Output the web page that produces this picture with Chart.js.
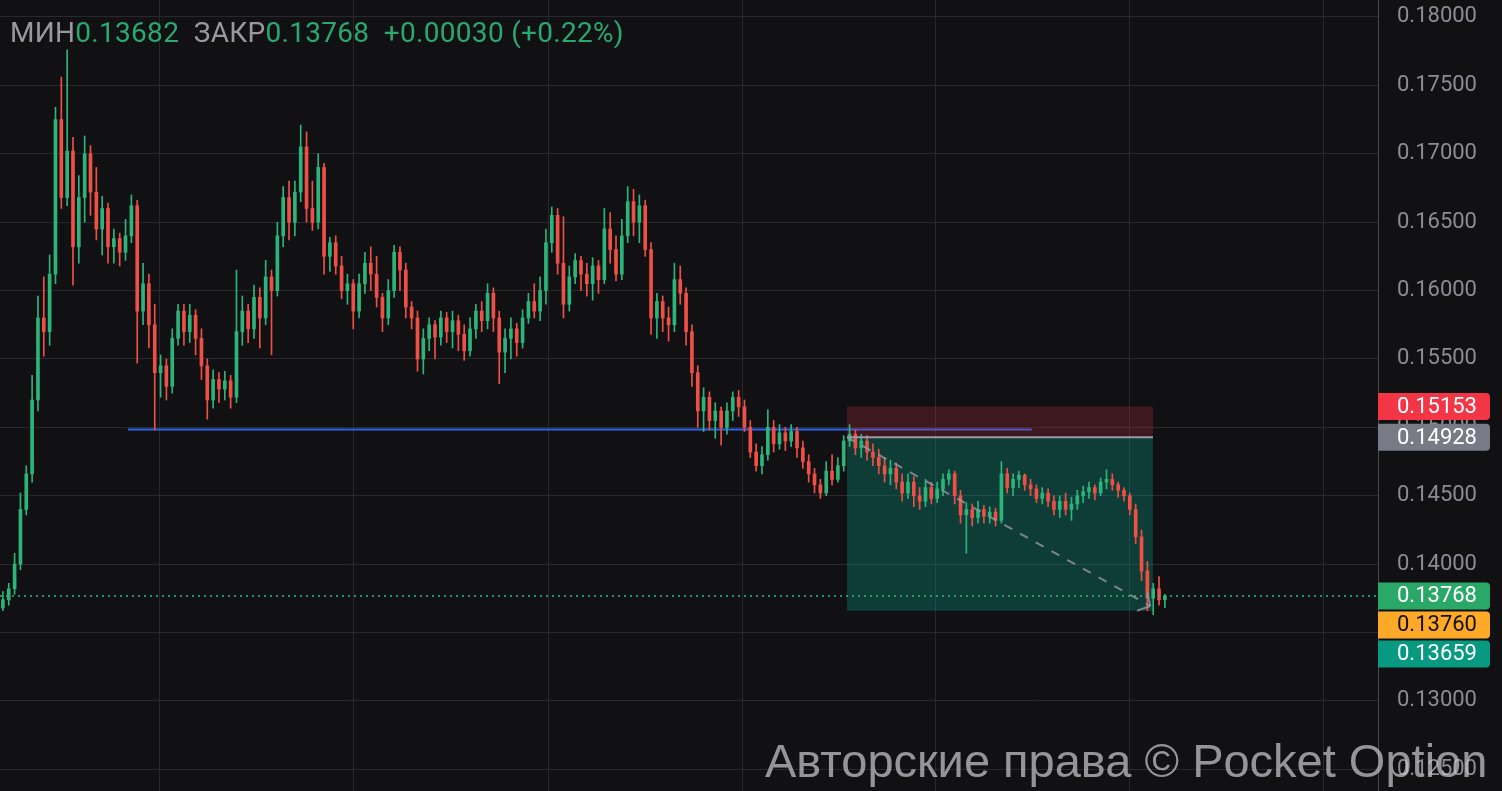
<!DOCTYPE html>
<html>
<head>
<meta charset="utf-8">
<script src="https://cdn.jsdelivr.net/npm/chart.js@4.4.1/dist/chart.umd.min.js"></script>
<style>
  html, body { margin: 0; background: #111114; overflow: hidden; }
  #wrap { position: relative; width: 1502px; height: 791px; }
  #legend { position: absolute; left: 10px; top: 18px; font: 28px Roboto, sans-serif; letter-spacing: 0.3px; line-height: 30px; white-space: pre; color: #2aa872; }
  #legend .lbl { color: #98989e; }
  #mark { position: absolute; left: 765px; top: 737px; font: 47px "Liberation Sans", Arial, sans-serif; line-height: 47px; color: rgba(200, 200, 205, 0.72); white-space: nowrap; }
</style>
</head>
<body>
<div id="wrap">
  <canvas id="chart" width="1502" height="791"></canvas>
  <div id="legend"><span class="lbl">МИН</span>0.13682  <span class="lbl">ЗАКР</span>0.13768  +0.00030 (+0.22%)</div>
  <div id="mark">Авторские права © Pocket Option</div>
</div>
<script>
// candles (OHLC), one per time slot
const opens = [
  .1368,.1374,.1382,.1400,.1440,.1466,.1520,.1580,.1570,.1612,
  .1725,.1668,.1702,.1632,.1668,.1700,.1672,.1645,.1660,.1632,
  .1638,.1628,.1640,.1662,.1585,.1605,.1575,.1540,.1545,.1530,
  .1565,.1585,.1570,.1582,.1565,.1545,.1520,.1535,.1528,.1534,
  .1522,.1570,.1585,.1572,.1595,.1580,.1610,.1600,.1640,.1668,
  .1650,.1672,.1705,.1660,.1650,.1690,.1625,.1635,.1618,.1600,
  .1605,.1585,.1605,.1620,.1612,.1595,.1580,.1600,.1628,.1615,
  .1588,.1580,.1550,.1565,.1575,.1566,.1580,.1570,.1578,.1568,
  .1556,.1572,.1585,.1578,.1598,.1580,.1555,.1565,.1572,.1562,
  .1580,.1592,.1585,.1600,.1635,.1655,.1620,.1590,.1610,.1622,
  .1612,.1605,.1618,.1608,.1645,.1630,.1612,.1640,.1665,.1650,
  .1662,.1630,.1580,.1592,.1580,.1575,.1608,.1598,.1570,.1540,
  .1512,.1522,.1505,.1512,.1500,.1512,.1522,.1515,.1500,.1482,
  .1472,.1480,.1500,.1488,.1496,.1490,.1497,.1485,.1475,.1466,
  .1458,.1452,.1468,.1462,.1472,.1490,.1495,.1485,.1490,.1482,
  .1478,.1472,.1466,.1470,.1460,.1452,.1460,.1450,.1446,.1456,
  .1448,.1455,.1462,.1466,.1450,.1436,.1440,.1434,.1440,.1435,
  .1438,.1432,.1466,.1456,.1462,.1465,.1458,.1455,.1448,.1452,
  .1446,.1440,.1446,.1440,.1444,.1450,.1453,.1456,.1452,.1460,
  .1462,.1458,.1454,.1450,.1440,.1420,.1395,.1375,.1382,.1374
];
const highs = [
  .1380,.1386,.1408,.1452,.1472,.1538,.1596,.1610,.1626,.1734,
  .1756,.1776,.1712,.1684,.1713,.1706,.1690,.1669,.1664,.1645,
  .1642,.1652,.1670,.1666,.1620,.1612,.1590,.1553,.1550,.1572,
  .1590,.1590,.1590,.1586,.1572,.1550,.1542,.1540,.1541,.1538,
  .1615,.1596,.1590,.1604,.1602,.1622,.1615,.1650,.1676,.1680,
  .1680,.1721,.1716,.1680,.1700,.1693,.1639,.1640,.1625,.1612,
  .1608,.1612,.1628,.1632,.1625,.1598,.1608,.1633,.1632,.1620,
  .1592,.1585,.1572,.1580,.1578,.1585,.1584,.1585,.1582,.1575,
  .1580,.1590,.1592,.1605,.1602,.1585,.1572,.1580,.1576,.1586,
  .1598,.1605,.1610,.1645,.1661,.1660,.1654,.1618,.1627,.1625,
  .1620,.1624,.1622,.1660,.1657,.1640,.1652,.1676,.1674,.1670,
  .1666,.1635,.1598,.1596,.1588,.1620,.1618,.1602,.1575,.1545,
  .1529,.1526,.1518,.1515,.1518,.1526,.1527,.1520,.1505,.1488,
  .1486,.1513,.1505,.1502,.1500,.1502,.1500,.1490,.1480,.1470,
  .1462,.1475,.1480,.1478,.1494,.1502,.1498,.1495,.1494,.1488,
  .1484,.1478,.1476,.1474,.1466,.1466,.1464,.1456,.1462,.1460,
  .1460,.1466,.1469,.1468,.1454,.1445,.1444,.1446,.1443,.1442,
  .1441,.1475,.1470,.1466,.1468,.1466,.1462,.1458,.1456,.1455,
  .1450,.1450,.1452,.1449,.1454,.1457,.1460,.1458,.1463,.1469,
  .1466,.1460,.1456,.1452,.1444,.1425,.1402,.1386,.1391,.1378
];
const lows = [
  .1366,.1370,.1378,.1396,.1436,.1460,.1512,.1552,.1560,.1605,
  .1660,.1662,.1604,.1620,.1650,.1655,.1637,.1626,.1620,.1620,
  .1618,.1622,.1635,.1547,.1575,.1558,.1498,.1522,.1520,.1525,
  .1560,.1560,.1562,.1553,.1535,.1506,.1514,.1518,.1520,.1514,
  .1518,.1560,.1562,.1565,.1558,.1575,.1553,.1596,.1632,.1637,
  .1640,.1665,.1650,.1644,.1645,.1612,.1614,.1612,.1594,.1590,
  .1572,.1580,.1598,.1600,.1588,.1570,.1575,.1595,.1600,.1580,
  .1572,.1541,.1539,.1556,.1550,.1560,.1562,.1558,.1556,.1549,
  .1552,.1565,.1570,.1572,.1570,.1532,.1540,.1550,.1552,.1558,
  .1576,.1580,.1578,.1590,.1628,.1612,.1580,.1585,.1605,.1600,
  .1596,.1593,.1598,.1605,.1620,.1607,.1608,.1635,.1640,.1635,
  .1625,.1568,.1565,.1570,.1563,.1570,.1590,.1560,.1530,.1500,
  .1497,.1498,.1492,.1487,.1495,.1505,.1508,.1497,.1478,.1468,
  .1466,.1476,.1482,.1484,.1483,.1486,.1478,.1470,.1460,.1452,
  .1448,.1450,.1458,.1460,.1468,.1486,.1480,.1478,.1476,.1472,
  .1466,.1460,.1458,.1455,.1446,.1448,.1442,.1440,.1442,.1444,
  .1445,.1450,.1458,.1444,.1430,.1408,.1428,.1430,.1430,.1430,
  .1428,.1430,.1452,.1450,.1456,.1454,.1450,.1445,.1444,.1442,
  .1436,.1434,.1436,.1432,.1440,.1445,.1448,.1447,.1450,.1455,
  .1454,.1449,.1446,.1436,.1415,.1388,.1366,.1363,.1370,.13682
];
const closes = [
  .1374,.1382,.1400,.1440,.1466,.1520,.1580,.1570,.1612,.1725,
  .1668,.1702,.1632,.1668,.1700,.1672,.1645,.1660,.1632,.1638,
  .1628,.1640,.1662,.1585,.1605,.1575,.1540,.1545,.1530,.1565,
  .1585,.1570,.1582,.1565,.1545,.1520,.1535,.1528,.1534,.1522,
  .1570,.1585,.1572,.1595,.1580,.1610,.1600,.1640,.1668,.1650,
  .1672,.1705,.1660,.1650,.1690,.1625,.1635,.1618,.1600,.1605,
  .1585,.1605,.1620,.1612,.1595,.1580,.1600,.1628,.1615,.1588,
  .1580,.1550,.1565,.1575,.1566,.1580,.1570,.1578,.1568,.1556,
  .1572,.1585,.1578,.1598,.1580,.1555,.1565,.1572,.1562,.1580,
  .1592,.1585,.1600,.1635,.1655,.1620,.1590,.1610,.1622,.1612,
  .1605,.1618,.1608,.1645,.1630,.1612,.1640,.1665,.1650,.1662,
  .1630,.1580,.1592,.1580,.1575,.1608,.1598,.1570,.1540,.1512,
  .1522,.1505,.1512,.1500,.1512,.1522,.1515,.1500,.1482,.1472,
  .1480,.1500,.1488,.1496,.1490,.1497,.1485,.1475,.1466,.1458,
  .1452,.1468,.1462,.1472,.1490,.1495,.1485,.1490,.1482,.1478,
  .1472,.1466,.1470,.1460,.1452,.1460,.1450,.1446,.1456,.1448,
  .1455,.1462,.1466,.1450,.1436,.1440,.1434,.1440,.1435,.1438,
  .1432,.1466,.1456,.1462,.1465,.1458,.1455,.1448,.1452,.1446,
  .1440,.1446,.1440,.1444,.1450,.1453,.1456,.1452,.1460,.1462,
  .1458,.1454,.1450,.1440,.1420,.1395,.1375,.1382,.1374,.13768
];

// axes
const yTicks = [0.125, 0.13, 0.135, 0.14, 0.145, 0.15, 0.155, 0.16, 0.165, 0.17, 0.175, 0.18];
const yRange = [0.12342, 0.18124];
const xRange = [-0.5, 235.5];
const timeTicks = [26.9, 60.1, 93.4, 126.6, 159.8, 193.0, 226.2];

// drawings
const levelX = [21.4, 176.2];
const levelPrice = 0.14985;
const positionX = [144.56, 196.96];
const stopPrice = 0.15153;
const entryPrice = 0.14928;
const targetPrice = 0.13659;
const pathX = [144.56, 196.5];
const pathY = [0.14928, 0.13694];

// price tags on the axis
const tagValues = [0.15153, 0.14928, 0.13768, 0.13760, 0.13659];
const tagFill = ["#f23645", "#787b86", "#2aa868", "#ffa928", "#089981"];
const tagInk = ["#ffffff", "#ffffff", "#ffffff", "#111111", "#ffffff"];

const upColor = "#2db47a";
const downColor = "#ee5046";
const gridColor = "#28282e";
const lastClose = closes[closes.length - 1];

const candleIdx = closes.map((_, i) => i);
const candleColors = closes.map((c, i) => (c >= opens[i] ? upColor : downColor));

// position box sits over the level line but under the candles
const positionBox = {
   id: "positionBox",
   afterDatasetDraw(chart, args) {
      if (args.index !== 0) return;
      const { ctx, scales: { x, y } } = chart;
      const x1 = x.getPixelForValue(positionX[0]);
      const x2 = x.getPixelForValue(positionX[1]);
      const yStop = y.getPixelForValue(stopPrice);
      const yEntry = y.getPixelForValue(entryPrice);
      const yTarget = y.getPixelForValue(targetPrice);
      ctx.save();
      ctx.fillStyle = "rgba(242, 54, 69, 0.2)";
      ctx.fillRect(x1, yStop, x2 - x1, yEntry - yStop);
      ctx.fillStyle = "rgba(8, 153, 129, 0.32)";
      ctx.fillRect(x1, yEntry, x2 - x1, yTarget - yEntry);
      ctx.restore();
   },
};

const arrowHead = {
   id: "arrowHead",
   afterDatasetsDraw(chart) {
      const { ctx, scales: { x, y } } = chart;
      const x0 = x.getPixelForValue(pathX[0]), y0 = y.getPixelForValue(pathY[0]);
      const x1 = x.getPixelForValue(pathX[1]), y1 = y.getPixelForValue(pathY[1]);
      const ang = Math.atan2(y1 - y0, x1 - x0);
      ctx.save();
      ctx.strokeStyle = "rgba(150, 152, 160, 0.8)";
      ctx.lineWidth = 2;
      ctx.beginPath();
      [0.85, -0.85].forEach((d) => {
         ctx.moveTo(x1, y1);
         ctx.lineTo(x1 - 14 * Math.cos(ang + d), y1 - 14 * Math.sin(ang + d));
      });
      ctx.stroke();
      ctx.restore();
   },
};

const priceTags = {
   id: "priceTags",
   afterDraw(chart) {
      const { ctx, scales: { y } } = chart;
      let prev = -Infinity;
      ctx.save();
      ctx.font = "22px Roboto, sans-serif";
      ctx.textBaseline = "middle";
      ctx.textAlign = "left";
      tagValues.forEach((v, k) => {
         const cy = Math.max(y.getPixelForValue(v), prev + 29);
         prev = cy;
         ctx.fillStyle = tagFill[k];
         ctx.beginPath();
         ctx.roundRect(y.left, cy - 13.5, 112, 27, [0, 4, 4, 0]);
         ctx.fill();
         ctx.fillStyle = tagInk[k];
         ctx.fillText(v.toFixed(5), y.left + 19, cy + 1);
      });
      ctx.restore();
   },
};

const lineSet = (label, data, color, extra) =>
   Object.assign({ type: "line", label, data, borderColor: color, borderWidth: 2, pointRadius: 0, tension: 0 }, extra);

new Chart(document.getElementById("chart"), {
   type: "bar",
   data: {
      datasets: [
         lineSet("level", levelX.map((x) => ({ x, y: levelPrice })), "#2f63e8", { order: 6 }),
         {
            type: "bar",
            label: "wick",
            data: candleIdx.map((i) => ({ x: i, y: [lows[i], highs[i]] })),
            backgroundColor: candleColors,
            barThickness: 1,
            grouped: false,
            order: 5,
         },
         {
            type: "bar",
            label: "body",
            data: candleIdx.map((i) => ({ x: i, y: [opens[i], closes[i]] })),
            backgroundColor: candleColors,
            barThickness: 3,
            minBarLength: 1,
            grouped: false,
            order: 4,
         },
         lineSet("entry", positionX.map((x) => ({ x, y: entryPrice })), "#9a9ca5", { order: 3 }),
         lineSet("path", pathX.map((x, k) => ({ x, y: pathY[k] })), "rgba(150, 152, 160, 0.8)", { borderDash: [9, 9], order: 2 }),
         lineSet("last", xRange.map((x) => ({ x, y: lastClose })), "#2ebd80", { borderDash: [2, 4], borderWidth: 1.5, order: 1 }),
      ],
   },
   options: {
      responsive: false,
      animation: false,
      devicePixelRatio: 1,
      layout: { padding: 0 },
      plugins: { legend: { display: false }, tooltip: { enabled: false } },
      scales: {
         x: {
            type: "linear",
            min: xRange[0],
            max: xRange[1],
            offset: false,
            afterBuildTicks: (s) => { s.ticks = timeTicks.map((value) => ({ value })); },
            afterFit: (s) => { s.height = 0; s.paddingLeft = 0; s.paddingRight = 0; },
            ticks: { display: false },
            grid: { color: gridColor, drawTicks: false, offset: false },
            border: { display: false },
         },
         y: {
            position: "right",
            min: yRange[0],
            max: yRange[1],
            afterBuildTicks: (s) => { s.ticks = yTicks.map((value) => ({ value })); },
            afterFit: (s) => { s.width = 124; s.paddingTop = 0; s.paddingBottom = 0; },
            ticks: {
               color: "#8c8c93",
               padding: 19,
               font: { family: "Roboto", size: 22 },
               callback: (v) => Number(v).toFixed(5),
            },
            grid: { color: gridColor, drawTicks: false },
            border: { color: "#46464d" },
         },
      },
   },
   plugins: [positionBox, arrowHead, priceTags],
});
</script>
</body>
</html>
